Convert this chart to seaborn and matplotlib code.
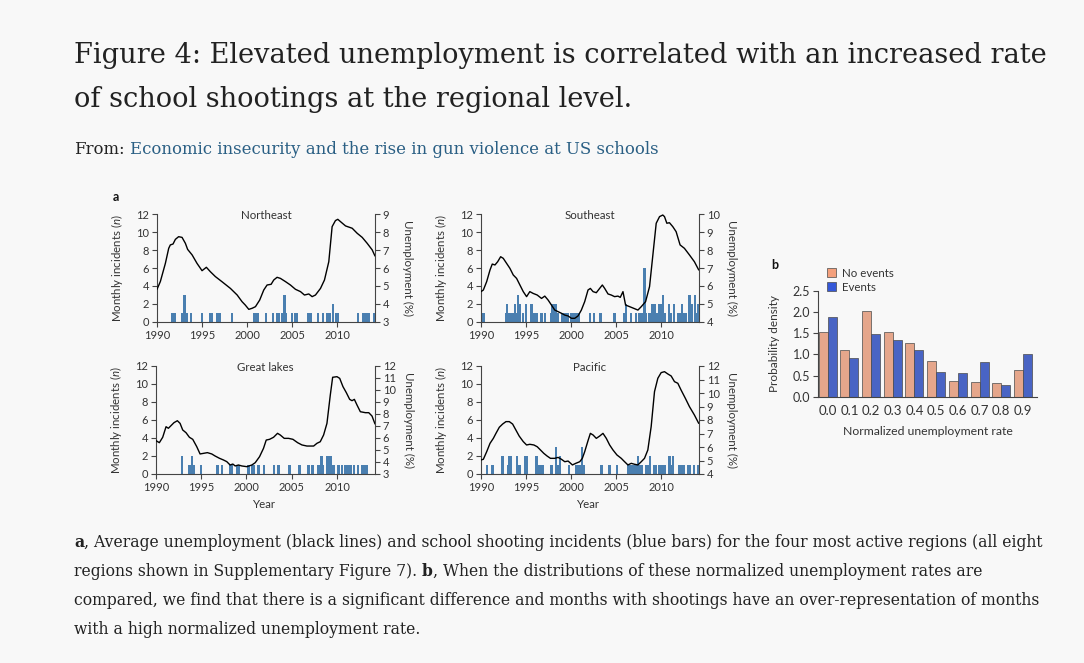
import matplotlib
matplotlib.use("Agg")
import matplotlib.pyplot as plt
from matplotlib.patches import Patch
import pandas as pd
import seaborn as sns

# ---- panel a: unemployment (%) ----
NE_LINE_YEAR = [1990.0, 1990.37, 1990.93, 1991.3, 1991.48, 1991.78, 1992.04, 1992.4, 1992.78, 1993.15,
                1993.4, 1993.9, 1994.44, 1995.0, 1995.48, 1995.93, 1996.48, 1997.2, 1998.15, 1998.9,
                1999.44, 1999.8, 2000.19, 2000.56, 2000.93, 2001.4, 2001.85, 2002.22, 2002.67, 2002.96,
                2003.33, 2003.7, 2004.26, 2004.81, 2005.37, 2005.93, 2006.37, 2006.85, 2007.22, 2007.59,
                2008.15, 2008.59, 2009.07, 2009.44, 2009.81, 2010.07, 2010.37, 2010.93, 2011.67, 2012.22,
                2012.78, 2013.33, 2013.89, 2014.2]
NE_LINE_RATE = [4.81, 5.24, 6.26, 7.10, 7.29, 7.34, 7.60, 7.75, 7.71, 7.38,
                7.04, 6.73, 6.26, 5.85, 6.04, 5.79, 5.52, 5.24, 4.86, 4.49,
                4.12, 3.93, 3.69, 3.75, 3.84, 4.21, 4.77, 5.05, 5.09, 5.33,
                5.48, 5.42, 5.24, 5.05, 4.81, 4.68, 4.49, 4.55, 4.40, 4.49,
                4.86, 5.33, 6.35, 8.31, 8.65, 8.72, 8.59, 8.35, 8.22, 7.94,
                7.71, 7.38, 7.01, 6.67]

SE_LINE_YEAR = [1990.0, 1990.26, 1990.63, 1991.0, 1991.25, 1991.55, 1991.85, 1992.18, 1992.47, 1992.84,
                1993.21, 1993.58, 1993.95, 1994.32, 1994.69, 1995.06, 1995.42, 1995.79, 1996.24, 1996.72,
                1997.08, 1997.45, 1997.82, 1998.19, 1998.56, 1998.93, 1999.3, 1999.67, 2000.04, 2000.41,
                2000.77, 2001.14, 2001.51, 2001.88, 2002.14, 2002.44, 2002.8, 2003.17, 2003.47, 2003.73,
                2004.1, 2004.46, 2004.83, 2005.2, 2005.46, 2005.76, 2006.05, 2006.5, 2006.94, 2007.42,
                2007.79, 2008.27, 2008.71, 2009.08, 2009.45, 2009.82, 2010.18, 2010.37, 2010.63, 2010.92,
                2011.29, 2011.66, 2012.1, 2012.58, 2013.14, 2013.69, 2014.17]
SE_LINE_RATE = [5.68, 5.77, 6.24, 6.89, 7.22, 7.17, 7.35, 7.63, 7.54, 7.26,
                6.98, 6.61, 6.42, 6.05, 5.68, 5.40, 5.68, 5.58, 5.49, 5.30,
                5.43, 5.21, 4.93, 4.65, 4.56, 4.47, 4.37, 4.32, 4.19, 4.19,
                4.32, 4.65, 5.12, 5.77, 5.86, 5.68, 5.62, 5.86, 6.05, 5.86,
                5.55, 5.49, 5.40, 5.43, 5.36, 5.68, 4.93, 4.84, 4.75, 4.65,
                4.84, 5.12, 5.96, 7.73, 9.50, 9.87, 9.96, 9.87, 9.50, 9.53,
                9.31, 9.03, 8.29, 8.10, 7.73, 7.35, 6.89]

GL_LINE_YEAR = [1990.0, 1990.37, 1990.74, 1991.11, 1991.37, 1991.62, 1991.99, 1992.36, 1992.66, 1992.95,
                1993.32, 1993.69, 1994.06, 1994.5, 1994.87, 1995.24, 1995.68, 1996.16, 1996.53, 1997.01,
                1997.45, 1997.82, 1998.19, 1998.49, 1998.75, 1999.11, 1999.48, 2000.04, 2000.59, 2000.96,
                2001.44, 2001.88, 2002.18, 2002.55, 2002.99, 2003.43, 2003.73, 2004.17, 2004.65, 2005.13,
                2005.65, 2006.13, 2006.68, 2007.42, 2007.79, 2008.15, 2008.52, 2008.89, 2009.26, 2009.52,
                2010.0, 2010.3, 2010.66, 2011.03, 2011.4, 2011.66, 2011.92, 2012.21, 2012.58, 2013.14,
                2013.51, 2013.87, 2014.2]
GL_LINE_RATE = [5.78, 5.61, 6.06, 6.94, 6.81, 7.0, 7.28, 7.44, 7.22, 6.67,
                6.44, 6.06, 5.89, 5.28, 4.67, 4.72, 4.78, 4.67, 4.5, 4.31,
                4.17, 4.03, 3.75, 3.83, 3.67, 3.75, 3.67, 3.61, 3.75, 3.94,
                4.44, 5.14, 5.83, 5.89, 6.06, 6.39, 6.25, 5.97, 5.97, 5.89,
                5.61, 5.42, 5.33, 5.33, 5.56, 5.69, 6.25, 7.22, 9.58, 11.06,
                11.11, 10.97, 10.28, 9.78, 9.22, 9.11, 9.22, 8.75, 8.19, 8.11,
                8.11, 7.83, 7.17]

PA_LINE_YEAR = [1990.0, 1990.26, 1990.63, 1991.0, 1991.37, 1991.66, 1992.03, 1992.4, 1992.77, 1993.14,
                1993.51, 1993.87, 1994.24, 1994.69, 1995.06, 1995.42, 1995.87, 1996.24, 1996.6, 1996.97,
                1997.34, 1997.71, 1998.19, 1998.56, 1998.93, 1999.3, 1999.67, 2000.15, 2000.52, 2000.96,
                2001.25, 2001.51, 2001.88, 2002.14, 2002.44, 2002.8, 2003.17, 2003.54, 2003.91, 2004.28,
                2004.65, 2005.09, 2005.57, 2005.94, 2006.31, 2006.68, 2007.05, 2007.42, 2007.79, 2008.15,
                2008.52, 2008.89, 2009.26, 2009.63, 2010.0, 2010.37, 2010.74, 2011.11, 2011.48, 2011.85,
                2012.21, 2012.69, 2013.14, 2013.69, 2014.17]
PA_LINE_RATE = [5.04, 5.09, 5.65, 6.27, 6.64, 7.01, 7.46, 7.7, 7.88, 7.88,
                7.7, 7.26, 6.81, 6.4, 6.15, 6.2, 6.15, 6.02, 5.78, 5.53,
                5.33, 5.16, 5.16, 5.23, 5.09, 4.91, 4.96, 4.67, 4.79, 4.91,
                5.16, 5.65, 6.47, 7.01, 6.89, 6.64, 6.81, 7.01, 6.64, 6.15,
                5.78, 5.41, 5.16, 4.91, 4.67, 4.79, 4.72, 4.67, 4.91, 5.16,
                5.78, 7.51, 10.1, 11.09, 11.51, 11.58, 11.41, 11.26, 10.84, 10.72,
                10.22, 9.6, 8.99, 8.37, 7.75]

# ---- panel a: monthly incidents (blue bars) ----
NE_INC_YEAR = [1991.67, 1991.93, 1992.78, 1992.96, 1993.07, 1993.26, 1993.78, 1995.0, 1995.85, 1996.04,
               1996.67, 1996.93, 1998.33, 2000.81, 2001.0, 2001.22, 2002.11, 2002.85, 2003.33, 2003.52,
               2003.89, 2004.15, 2004.33, 2005.0, 2005.37, 2005.56, 2006.74, 2006.96, 2007.11, 2007.85,
               2008.41, 2008.89, 2009.15, 2009.52, 2009.89, 2010.07, 2012.33, 2012.89, 2013.07, 2013.26,
               2013.52, 2014.15]
NE_INC_N = [1, 1, 1, 1, 3, 1, 1, 1, 1, 1,
            1, 1, 1, 1, 1, 1, 1, 1, 1, 1,
            1, 3, 1, 1, 1, 1, 1, 1, 1, 1,
            1, 1, 1, 2, 1, 1, 1, 1, 1, 1,
            1, 1]

SE_INC_YEAR = [1990.26, 1992.77, 1992.92, 1993.10, 1993.32, 1993.51, 1993.76, 1993.95, 1994.13, 1994.32,
               1994.69, 1994.98, 1995.61, 1995.79, 1995.98, 1996.16, 1996.72, 1997.08, 1997.75, 1997.93,
               1998.12, 1998.30, 1998.49, 1999.04, 1999.23, 1999.41, 1999.59, 2000.04, 2000.30, 2000.48,
               2000.66, 2000.89, 2002.07, 2002.55, 2003.28, 2004.83, 2005.94, 2006.13, 2006.68, 2007.23,
               2007.6, 2007.9, 2008.15, 2008.34, 2008.71, 2008.97, 2009.26, 2009.52, 2009.82, 2010.0,
               2010.18, 2010.37, 2010.85, 2011.11, 2011.4, 2011.85, 2012.03, 2012.29, 2012.47, 2012.69,
               2013.14, 2013.39, 2013.76, 2013.87, 2014.06]
SE_INC_N = [1, 1, 2, 1, 1, 1, 2, 1, 3, 2,
            1, 2, 2, 1, 1, 1, 1, 1, 1, 2,
            2, 2, 1, 1, 1, 1, 1, 1, 1, 1,
            1, 1, 1, 1, 1, 1, 1, 2, 1, 1,
            1, 1, 6, 1, 1, 2, 2, 1, 2, 2,
            3, 1, 2, 1, 2, 1, 1, 2, 1, 1,
            3, 2, 3, 1, 2]

GL_INC_YEAR = [1992.84, 1993.69, 1993.84, 1993.95, 1994.13, 1994.94, 1996.79, 1997.27, 1998.19, 1998.38,
               1998.93, 1999.11, 2000.22, 2000.59, 2000.77, 2001.33, 2001.96, 2003.06, 2003.54, 2004.76,
               2005.87, 2006.86, 2007.31, 2007.97, 2008.15, 2008.27, 2008.45, 2008.97, 2009.15, 2009.34,
               2009.63, 2010.18, 2010.55, 2010.92, 2011.11, 2011.29, 2011.48, 2011.85, 2012.29, 2012.8,
               2013.03, 2013.32]
GL_INC_N = [2, 1, 1, 2, 1, 1, 1, 1, 1, 1,
            1, 1, 1, 1, 1, 1, 1, 1, 1, 1,
            1, 1, 1, 1, 1, 2, 1, 2, 2, 2,
            1, 1, 1, 1, 1, 1, 1, 1, 1, 1,
            1, 1]

PA_INC_YEAR = [1990.63, 1991.29, 1992.4, 1993.03, 1993.14, 1993.28, 1994.02, 1994.21, 1994.32, 1994.87,
               1995.06, 1995.13, 1996.16, 1996.46, 1996.64, 1996.9, 1997.82, 1998.3, 1998.49, 1998.75,
               1999.78, 2000.59, 2000.89, 2001.03, 2001.22, 2001.4, 2003.36, 2004.28, 2005.09, 2006.31,
               2006.49, 2006.68, 2006.94, 2007.16, 2007.42, 2007.6, 2007.9, 2008.34, 2008.52, 2008.78,
               2009.26, 2009.45, 2009.74, 2009.93, 2010.18, 2010.37, 2010.92, 2011.11, 2011.29, 2012.03,
               2012.21, 2012.47, 2012.95, 2013.21, 2013.62, 2014.06]
PA_INC_N = [1, 1, 2, 1, 2, 2, 2, 1, 1, 2,
            2, 1, 2, 1, 1, 1, 1, 3, 1, 2,
            1, 1, 1, 1, 3, 1, 1, 1, 1, 1,
            1, 1, 1, 1, 2, 1, 1, 1, 1, 2,
            1, 1, 1, 1, 1, 1, 2, 1, 2, 1,
            1, 1, 1, 1, 1, 1]

YEAR_TICKS = [1990, 1995, 2000, 2005, 2010]

# ---- panel b: probability density per normalized unemployment bin ----
RATE_BINS = ['0.0', '0.1', '0.2', '0.3', '0.4', '0.5', '0.6', '0.7', '0.8', '0.9']
NO_EVENTS = [1.54, 1.10, 2.03, 1.53, 1.28, 0.85, 0.37, 0.35, 0.33, 0.62]
EVENTS = [1.88, 0.92, 1.49, 1.33, 1.10, 0.59, 0.56, 0.82, 0.28, 1.01]

TITLE = ['Figure 4: Elevated unemployment is correlated with an increased rate',
         'of school shootings at the regional level.']
SOURCE = 'Economic insecurity and the rise in gun violence at US schools'
CAPTION = [
    [('a', 'bold'), (', Average unemployment (black lines) and school shooting incidents (blue bars) '
                     'for the four most active regions (all eight', 'normal')],
    [('regions shown in Supplementary Figure 7). ', 'normal'), ('b', 'bold'),
     (', When the distributions of these normalized unemployment rates are', 'normal')],
    [('compared, we find that there is a significant difference and months with shootings have an '
      'over-representation of months', 'normal')],
    [('with a high normalized unemployment rate.', 'normal')],
]

W, H = 1084, 663
BG = '#f8f8f8'
INK = '#222222'
AX_INK = '#444444'
BAR_BLUE = '#4a7fb0'
SERIF = ['DejaVu Serif', 'Liberation Serif']
SANS = ['Lato', 'DejaVu Sans']

sns.set_style('ticks')
plt.rcParams['font.family'] = SANS
plt.rcParams.update({
    'mathtext.fontset': 'custom',
    'mathtext.rm': 'Lato',
    'mathtext.it': 'Lato:italic',
    'axes.edgecolor': AX_INK,
    'axes.linewidth': 0.8,
    'xtick.color': AX_INK,
    'ytick.color': AX_INK,
    'xtick.labelcolor': '#333333',
    'ytick.labelcolor': '#333333',
    'xtick.labelsize': 8,
    'ytick.labelsize': 8,
    'xtick.major.size': 3.5,
    'ytick.major.size': 3.5,
    'xtick.major.width': 0.8,
    'ytick.major.width': 0.8,
    'xtick.major.pad': 2.5,
    'ytick.major.pad': 2,
})

fig = plt.figure(figsize=(W / 100, H / 100), dpi=100, facecolor=BG)
renderer = fig.canvas.get_renderer()


def px_box(left, top, right, bottom):
    return [left / W, 1 - bottom / H, (right - left) / W, (bottom - top) / H]


def text_width(s, size, weight='normal', family=SERIF):
    t = fig.text(0, 0, s, fontsize=size, fontweight=weight, family=family)
    w = t.get_window_extent(renderer=renderer).width
    t.remove()
    return w


def draw_runs(x_px, base_px, runs, size):
    # draws pieces of one line side by side (mixed weights / colours)
    sp = text_width('a a', size) - text_width('aa', size)
    x = x_px
    for s, weight, color in runs:
        x += (len(s) - len(s.lstrip(' '))) * sp
        core = s.strip(' ')
        fig.text(x / W, 1 - base_px / H, core, fontsize=size, fontweight=weight, color=color,
                 family=SERIF, ha='left', va='baseline')
        x += text_width(core, size, weight)
        x += (len(s) - len(s.rstrip(' '))) * sp


def draw_region(rect, name, line_year, line_rate, inc_year, inc_n, rlim, show_year):
    ax = fig.add_axes(px_box(*rect))
    ax.set_facecolor('none')
    ax.bar(inc_year, inc_n, width=0.26, color=BAR_BLUE, linewidth=0)
    ax.set_xlim(1990, 2014.2)
    ax.set_ylim(0, 12)
    ax.set_yticks(range(0, 13, 2))
    ax.set_xticks(YEAR_TICKS)
    for side in ['top', 'right']:
        ax.spines[side].set_visible(False)

    ax2 = ax.twinx()
    sns.lineplot(x=line_year, y=line_rate, ax=ax2, color='black', linewidth=1.0)
    ax2.set_ylim(*rlim)
    ax2.set_yticks(range(rlim[0], rlim[1] + 1))
    ax2.set_xlim(1990, 2014.2)
    for side in ['top', 'left', 'bottom']:
        ax2.spines[side].set_visible(False)
    ax2.set_ylabel('')

    ax.text(0.5, 0.985, name, transform=ax.transAxes, ha='center', va='center',
            fontsize=8.3, color='#333333')
    ax.text(-0.183, 0.5, r'Monthly incidents ($n$)', transform=ax.transAxes, rotation=90,
            ha='center', va='center', fontsize=8.3, color='#333333')
    ax.text(1.151, 0.5, 'Unemployment (%)', transform=ax.transAxes, rotation=-90,
            ha='center', va='center', fontsize=8.3, color='#333333')
    if show_year:
        ax.text(0.49, -0.287, 'Year', transform=ax.transAxes, ha='center', va='center',
                fontsize=8.3, color='#333333')
    return ax


# ---- text blocks ----
title_size = 24 * 976 / text_width(TITLE[0], 24)
fig.text(74 / W, 1 - 63 / H, TITLE[0], fontsize=title_size, color=INK, family=SERIF, va='baseline')
fig.text(74 / W, 1 - 107 / H, TITLE[1], fontsize=title_size, color=INK, family=SERIF, va='baseline')

sub_size = 14 * 588 / text_width('From: ' + SOURCE, 14)
draw_runs(74, 154, [('From: ', 'normal', INK), (SOURCE, 'normal', '#2a5f84')], sub_size)

cap_plain = ''.join(s for s, _ in CAPTION[0])
cap_size = 14 * 976 / text_width(cap_plain, 14)
for i, line in enumerate(CAPTION):
    draw_runs(74, 547 + 29 * i, [(s, w, INK) for s, w in line], cap_size)

# ---- panel a ----
draw_region((157, 214.3, 375, 321.7), 'Northeast', NE_LINE_YEAR, NE_LINE_RATE,
            NE_INC_YEAR, NE_INC_N, (3, 9), False)
draw_region((481, 214.3, 699, 321.7), 'Southeast', SE_LINE_YEAR, SE_LINE_RATE,
            SE_INC_YEAR, SE_INC_N, (4, 10), False)
draw_region((156, 366, 375, 474), 'Great lakes', GL_LINE_YEAR, GL_LINE_RATE,
            GL_INC_YEAR, GL_INC_N, (3, 12), True)
draw_region((481, 366, 699, 474), 'Pacific', PA_LINE_YEAR, PA_LINE_RATE,
            PA_INC_YEAR, PA_INC_N, (4, 12), True)
fig.text(116 / W, 1 - 197 / H, 'a', fontsize=9, fontweight='bold', color='#111111',
         ha='center', va='center')

# ---- panel b ----
dens = pd.DataFrame({
    'rate': RATE_BINS * 2,
    'density': NO_EVENTS + EVENTS,
    'group': ['No events'] * len(RATE_BINS) + ['Events'] * len(RATE_BINS),
})
colors = {'No events': '#f4a07c', 'Events': '#3558d8'}
axb = fig.add_axes(px_box(818, 291, 1037, 396.7))
axb.set_facecolor('none')
sns.barplot(data=dens, x='rate', y='density', hue='group', order=RATE_BINS,
            hue_order=['No events', 'Events'], palette=colors, width=0.83, gap=0,
            errorbar=None, edgecolor='#4a4a4a', linewidth=0.5, legend=False, ax=axb)
axb.set_xlim(-0.45, 9.65)
axb.set_ylim(0, 2.5)
axb.set_yticks([0.0, 0.5, 1.0, 1.5, 2.0, 2.5])
axb.set_yticklabels(['0.0', '0.5', '1.0', '1.5', '2.0', '2.5'])
axb.tick_params(axis='x', length=0, pad=6, labelsize=9.5)
axb.tick_params(axis='y', labelsize=9)
axb.set_xlabel('')
axb.set_ylabel('')
for side in ['top', 'right']:
    axb.spines[side].set_visible(False)
axb.text(-0.2, 0.5, 'Probability density', transform=axb.transAxes, rotation=90,
         ha='center', va='center', fontsize=8.5, color='#333333')
axb.text(0.5, -0.325, 'Normalized unemployment rate', transform=axb.transAxes,
         ha='center', va='center', fontsize=8.8, color='#333333')
handles = [Patch(facecolor=colors[g], edgecolor='#4a4a4a', linewidth=0.5, label=g)
           for g in ['No events', 'Events']]
axb.legend(handles=handles, loc='upper left', bbox_to_anchor=(0.04, 1.22), frameon=False,
           fontsize=8.3, handlelength=0.8, handleheight=0.8, handletextpad=0.5,
           labelspacing=0.25, borderpad=0, borderaxespad=0, labelcolor='#333333')
fig.text(775 / W, 1 - 265 / H, 'b', fontsize=9, fontweight='bold', color='#111111',
         ha='center', va='center')

fig.savefig('out.png', dpi=100, facecolor=BG)
